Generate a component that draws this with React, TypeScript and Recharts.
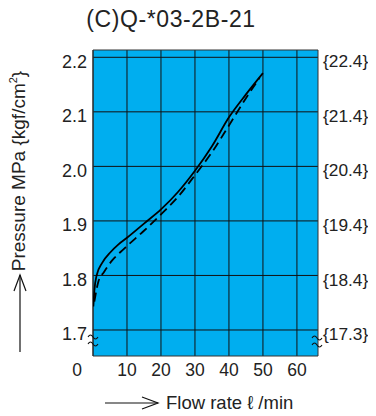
import {
  ComposedChart,
  Line,
  XAxis,
  YAxis,
  CartesianGrid,
  ReferenceArea,
} from "recharts";

// flow rate (l/min) vs pressure (MPa)
const solidFlow = [0.1, 0.4, 1.06, 2.7, 5.2, 7.5, 10, 15, 20, 25, 30, 35, 40, 45, 50];
const solidPressure = [1.743, 1.772, 1.8, 1.823, 1.843, 1.857, 1.869, 1.895, 1.921, 1.953, 1.992, 2.037, 2.09, 2.132, 2.171];

const dashedFlow = [0.4, 1.55, 3.2, 5.7, 8.1, 10, 15, 20, 25, 30, 35, 40, 45, 49];
const dashedPressure = [1.752, 1.788, 1.806, 1.828, 1.843, 1.854, 1.882, 1.912, 1.944, 1.984, 2.026, 2.075, 2.125, 2.162];

const flowTicks = [0, 10, 20, 30, 40, 50, 60];
const pressureTicks = [1.7, 1.8, 1.9, 2.0, 2.1, 2.2];
const kgfLabels = ["{17.3}", "{18.4}", "{19.4}", "{20.4}", "{21.4}", "{22.4}"];

const X_MAX = 66.2;
const Y_MIN = 1.6523;
const Y_MAX = 2.2134;

const FONT = "'Liberation Sans', Arial, Helvetica, sans-serif";
const PLOT_BG = "#00AEEF";

const solidData = solidFlow.map((f, i) => ({ flow: f, p: solidPressure[i] }));
const dashedData = dashedFlow.map((f, i) => ({ flow: f, p: dashedPressure[i] }));

function FlowTick({ x, y, payload }: any) {
  const shift = payload.value === 0 ? -16 : 0;
  return (
    <text x={x + shift} y={y + 14} dy="0.35em" textAnchor="middle" fontSize={17.5} fill="#222" fontFamily={FONT}>
      {payload.value}
    </text>
  );
}

function LeftTick({ x, y, payload }: any) {
  return (
    <text x={x} y={y + 4} dy="0.35em" textAnchor="end" fontSize={18} fill="#222" fontFamily={FONT}>
      {payload.value.toFixed(1)}
    </text>
  );
}

function RightTick({ x, y, payload }: any) {
  const idx = pressureTicks.findIndex((t) => Math.abs(t - payload.value) < 1e-6);
  return (
    <text x={x} y={y + 4} dy="0.35em" textAnchor="start" fontSize={17.3} fill="#222" fontFamily={FONT}>
      {kgfLabels[idx]}
    </text>
  );
}

function Squiggle({ cx, cy }: { cx: number; cy: number }) {
  const t = (y: number) => `M${cx - 5},${y} q2.5,-4 5,0 t5,0`;
  return (
    <g fill="none" stroke="#111" strokeWidth={1.1}>
      <path d={t(cy - 3)} />
      <path d={t(cy + 4)} />
    </g>
  );
}

export default function App() {
  return (
    <div style={{ position: "relative", width: 368, height: 408, fontFamily: FONT }}>
      <ComposedChart
        width={368}
        height={408}
        margin={{ top: 42, right: 8, bottom: 30, left: 40 }}
      >
        <CartesianGrid
          stroke="#111"
          strokeWidth={1}
          fill={PLOT_BG}
          fillOpacity={1}
          horizontalValues={pressureTicks}
          verticalValues={flowTicks}
        />
        <ReferenceArea
          x1={0}
          x2={X_MAX}
          y1={Y_MIN}
          y2={Y_MAX}
          fill="none"
          stroke="#333"
          strokeWidth={1}
        />
        <XAxis
          type="number"
          dataKey="flow"
          domain={[0, X_MAX]}
          ticks={flowTicks}
          allowDataOverflow
          height={30}
          axisLine={false}
          tickLine={false}
          tickSize={0}
          tickMargin={0}
          tick={<FlowTick />}
          interval={0}
        />
        <YAxis
          type="number"
          domain={[Y_MIN, Y_MAX]}
          ticks={pressureTicks}
          allowDataOverflow
          width={45}
          axisLine={false}
          tickLine={false}
          tickSize={0}
          tickMargin={6}
          tick={<LeftTick />}
          interval={0}
        />
        <YAxis
          yAxisId="r"
          orientation="right"
          type="number"
          domain={[Y_MIN, Y_MAX]}
          ticks={pressureTicks}
          allowDataOverflow
          width={50}
          axisLine={false}
          tickLine={false}
          tickSize={0}
          tickMargin={5}
          tick={<RightTick />}
          interval={0}
        />
        <Line
          data={dashedData}
          dataKey="p"
          type="monotone"
          stroke="#000"
          strokeWidth={1.8}
          strokeDasharray="9 5"
          dot={false}
          isAnimationActive={false}
        />
        <Line
          data={solidData}
          dataKey="p"
          type="monotone"
          stroke="#000"
          strokeWidth={1.8}
          dot={false}
          isAnimationActive={false}
        />
      </ComposedChart>

      <svg
        width={368}
        height={408}
        style={{ position: "absolute", left: 0, top: 0, pointerEvents: "none", overflow: "visible" }}
      >
        <text x={163} y={11} dy="0.35em" textAnchor="middle" fontSize={23} letterSpacing={0.6} fill="#222" fontFamily={FONT}>
          (C)Q-*03-2B-21
        </text>

        <text
          transform="translate(10,163) rotate(-90)"
          textAnchor="middle"
          dy="0.35em"
          fontSize={19}
          fill="#222"
          fontFamily={FONT}
        >
          Pressure MPa {"{"}kgf/cm<tspan fontSize={11} dy="-8">2</tspan>
          <tspan dy="8">{"}"}</tspan>
        </text>
        <g stroke="#111" strokeWidth={1.2} fill="none">
          <line x1={12} y1={344} x2={12} y2={267} />
          <polyline points="6,283 12,267 18,283" />
          <line x1={97} y1={395} x2={150} y2={395} />
          <polyline points="134,389 150,395 134,401" />
        </g>
        <text x={158} y={395} dy="0.35em" fontSize={18.5} fill="#222" fontFamily={FONT}>
          Flow rate {"\u2113"} /min
        </text>

        <Squiggle cx={85} cy={332} />
        <Squiggle cx={309} cy={333} />
      </svg>
    </div>
  );
}
